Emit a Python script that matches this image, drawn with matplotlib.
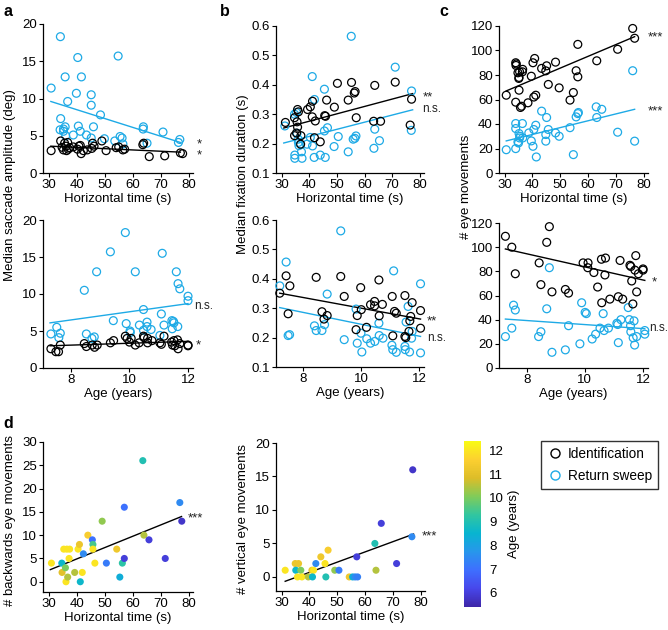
import matplotlib.pyplot as plt
import numpy as np
from matplotlib.colors import LinearSegmentedColormap

plt.rcParams['font.family'] = ['Liberation Sans', 'DejaVu Sans']
plt.rcParams['font.size'] = 9

BLUE = '#1EAAE6'
W, H = 668, 630

# ---- panel a (saccade amplitude) ----
a_top_id_x = [30.9, 34.3, 34.8, 35.3, 35.7, 36.2, 36.4, 36.8, 37.0, 37.5, 38.8, 40.3, 40.8, 41.3,
              41.6, 42.4, 43.8, 45.4, 45.7, 46.2, 49.0, 50.5, 54.1, 55.0, 56.5, 57.1, 63.6, 63.9,
              65.9, 71.4, 77.0, 77.8]
a_top_id_y = [3.0, 4.3, 3.45, 3.1, 4.0, 3.6, 3.0, 4.1, 3.2, 3.4, 3.5, 3.2, 3.6, 3.7,
              2.6, 3.0, 3.1, 3.3, 4.0, 3.6, 4.3, 3.0, 3.4, 3.5, 3.1, 3.2, 3.8, 4.0,
              2.2, 2.3, 2.7, 2.6]
a_top_rs_x = [30.9, 34.2, 35.9, 40.4, 41.7, 39.9, 36.8, 45.2, 45.2, 54.8, 48.5, 34.3, 34.1, 35.3,
              35.9, 35.3, 36.1, 40.6, 41.3, 46.0, 38.8, 43.5, 45.2, 49.9, 53.6, 55.5, 56.2, 56.5,
              63.8, 63.7, 65.1, 70.8, 76.8, 76.3]
a_top_rs_y = [11.4, 18.3, 12.9, 15.5, 12.9, 10.7, 9.6, 10.5, 9.1, 15.7, 7.8, 7.3, 5.8, 5.9,
              6.2, 5.6, 5.0, 6.3, 5.6, 6.2, 5.1, 5.1, 4.7, 4.6, 4.3, 4.9, 4.7, 3.9,
              6.2, 5.9, 4.0, 5.5, 4.5, 4.1]
a_top_fit_x = [30.8, 77.0]
a_top_fit_id = [3.6, 2.8]
a_top_fit_rs = [9.6, 4.1]

a_bot_id_x = [7.32, 7.49, 7.58, 7.64, 8.46, 8.53, 8.73, 8.81, 8.90, 9.35, 9.46, 9.86, 9.92, 10.0,
              10.06, 10.2, 10.33, 10.48, 10.5, 10.62, 10.62, 10.77, 11.04, 11.09, 11.18, 11.44,
              11.47, 11.52, 11.55, 11.64, 11.66, 11.72, 12.0, 12.0]
a_bot_id_y = [2.6, 2.2, 2.2, 3.1, 3.3, 2.9, 3.1, 2.8, 3.1, 3.4, 3.7, 4.3, 4.0, 3.5,
              4.0, 3.1, 3.4, 4.3, 4.1, 4.0, 3.4, 3.7, 3.4, 3.2, 4.3, 3.5,
              3.1, 3.7, 3.0, 3.8, 2.6, 3.3, 3.1, 3.0]
a_bot_rs_x = [7.32, 7.52, 7.64, 7.59, 8.46, 8.53, 8.72, 8.80, 8.88, 9.35, 9.45, 9.86, 9.89, 10.02,
              10.03, 10.2, 10.34, 10.48, 10.48, 10.6, 10.6, 10.74, 11.04, 11.09, 11.12, 11.18,
              11.45, 11.5, 11.52, 11.46, 11.6, 11.66, 11.72, 11.65, 12.0, 12.0]
a_bot_rs_y = [4.6, 5.5, 4.7, 4.1, 10.5, 4.6, 4.0, 4.2, 13.0, 15.7, 6.4, 18.3, 6.0, 5.0,
              4.8, 13.0, 5.8, 5.1, 7.9, 6.2, 5.6, 5.2, 4.4, 7.3, 15.5, 5.8,
              6.4, 6.3, 6.1, 5.3, 13.0, 11.4, 10.7, 5.6, 9.7, 9.1]
a_bot_fit_x = [7.29, 12.0]
a_bot_fit_id = [3.0, 3.6]
a_bot_fit_rs = [6.1, 8.7]

# ---- panel b (fixation duration) ----
b_top_id_x = [31.4, 34.7, 34.7, 35.8, 36.1, 35.6, 35.8, 35.4, 37.0, 36.9, 39.4, 40.4, 41.2, 41.1,
              42.2, 41.9, 44.0, 45.6, 45.9, 46.3, 49.1, 50.2, 54.1, 55.3, 56.3, 56.6, 57.0, 63.7,
              63.3, 65.8, 71.1, 77.0, 76.5]
b_top_id_y = [0.272, 0.288, 0.227, 0.316, 0.308, 0.274, 0.256, 0.236, 0.227, 0.198, 0.316, 0.325,
              0.344, 0.291, 0.277, 0.220, 0.206, 0.295, 0.293, 0.348, 0.324, 0.405, 0.348, 0.408,
              0.372, 0.377, 0.288, 0.398, 0.276, 0.276, 0.409, 0.351, 0.263]
b_top_rs_x = [31.2, 34.7, 35.4, 34.8, 34.8, 35.6, 36.0, 36.1, 36.3, 37.2, 37.4, 39.2, 40.4, 41.2,
              41.1, 41.9, 41.8, 44.0, 45.5, 45.8, 45.5, 46.6, 49.0, 50.5, 54.1, 55.2, 55.9, 56.5,
              56.9, 63.4, 63.7, 65.4, 71.1, 77.0, 76.9]
b_top_rs_y = [0.260, 0.300, 0.306, 0.161, 0.150, 0.235, 0.215, 0.204, 0.193, 0.172, 0.150, 0.198,
              0.221, 0.192, 0.428, 0.350, 0.153, 0.161, 0.385, 0.153, 0.243, 0.254, 0.190, 0.224,
              0.172, 0.565, 0.215, 0.218, 0.226, 0.184, 0.249, 0.210, 0.460, 0.379, 0.245]
b_top_fit_x = [30.8, 77.4]
b_top_fit_id = [0.253, 0.370]
b_top_fit_rs = [0.202, 0.315]

b_bot_id_x = [7.18, 7.40, 7.47, 7.53, 8.44, 8.64, 8.71, 8.82, 9.29, 9.41, 9.82, 9.86, 9.98, 10.0,
              10.18, 10.32, 10.46, 10.46, 10.61, 10.62, 10.73, 11.07, 11.09, 11.15, 11.21, 11.51,
              11.51, 11.54, 11.65, 11.71, 11.76, 11.68, 12.05, 12.05]
b_bot_id_y = [0.351, 0.410, 0.281, 0.376, 0.405, 0.288, 0.263, 0.275, 0.408, 0.340, 0.227, 0.275,
              0.370, 0.295, 0.235, 0.312, 0.323, 0.308, 0.396, 0.274, 0.313, 0.340, 0.206, 0.289,
              0.283, 0.343, 0.204, 0.200, 0.221, 0.272, 0.319, 0.257, 0.292, 0.232]
b_bot_rs_x = [7.18, 7.40, 7.47, 7.52, 8.38, 8.44, 8.64, 8.73, 8.82, 9.29, 9.41, 9.82, 9.86, 9.99,
              10.02, 10.19, 10.32, 10.47, 10.61, 10.62, 10.75, 11.06, 11.09, 11.12, 11.21, 11.51,
              11.52, 11.55, 11.62, 11.67, 11.74, 11.76, 12.05, 12.05]
b_bot_rs_y = [0.376, 0.457, 0.207, 0.210, 0.240, 0.224, 0.224, 0.244, 0.348, 0.563, 0.193, 0.297,
              0.181, 0.215, 0.151, 0.196, 0.181, 0.187, 0.249, 0.207, 0.198, 0.174, 0.159, 0.427,
              0.150, 0.170, 0.159, 0.253, 0.306, 0.151, 0.198, 0.221, 0.383, 0.148]
b_bot_fit_x = [7.18, 12.05]
b_bot_fit_id = [0.351, 0.263]
b_bot_fit_rs = [0.302, 0.204]

# ---- panel c (number of eye movements) ----
c_top_id_x = [30.6, 34.0, 34.0, 34.2, 34.1, 34.8, 35.4, 35.2, 35.1, 35.2, 35.7, 36.1, 36.5, 36.4,
              38.4, 39.6, 40.2, 40.8, 40.5, 41.2, 43.3, 45.1, 44.8, 45.7, 48.3, 49.6, 53.5, 54.7,
              55.7, 56.3, 56.3, 63.1, 70.6, 76.0, 76.7]
c_top_id_y = [63.5, 57.8, 90.0, 89.0, 87.8, 81.8, 82.6, 78.0, 77.2, 67.6, 53.5, 54.5, 84.6, 82.6,
              57.3, 79.0, 90.0, 93.5, 62.0, 63.5, 85.4, 87.5, 83.4, 72.3, 90.5, 69.5, 59.5, 65.7,
              83.5, 78.5, 105.0, 91.6, 101.0, 118.0, 110.0]
c_top_rs_x = [30.6, 34.0, 34.0, 34.0, 34.8, 35.0, 35.2, 35.5, 35.4, 36.4, 36.5, 38.7, 39.6, 40.2,
              40.5, 41.2, 41.4, 43.3, 45.1, 44.8, 44.8, 45.7, 48.3, 49.6, 53.5, 54.7, 55.7, 56.3,
              56.5, 62.9, 63.1, 64.9, 70.6, 76.0, 76.7]
c_top_rs_y = [19.0, 40.4, 36.3, 19.9, 25.4, 24.5, 32.2, 30.0, 28.6, 40.4, 28.6, 32.7, 26.2, 21.8,
              35.5, 39.0, 13.1, 50.5, 45.3, 31.4, 26.0, 35.5, 32.7, 30.0, 37.0, 15.0, 45.8, 48.5,
              49.4, 54.0, 45.3, 52.0, 33.3, 83.5, 26.0]
c_top_fit_x = [30.6, 76.7]
c_top_fit_id = [67.0, 111.3]
c_top_fit_rs = [26.2, 52.0]

c_bot_id_x = [7.27, 7.49, 7.61, 8.43, 8.49, 8.69, 8.78, 8.87, 9.33, 9.44, 9.94, 10.11, 10.10, 10.31,
              10.44, 10.58, 10.57, 10.71, 10.69, 10.86, 11.15, 11.21, 11.30, 11.55, 11.58, 11.61,
              11.65, 11.72, 11.75, 11.78, 11.84, 12.0, 12.0]
c_bot_id_y = [109.0, 100.0, 78.0, 87.0, 69.0, 104.0, 117.0, 63.0, 65.0, 62.0, 87.0, 87.0, 83.0, 79.0,
              67.0, 54.0, 90.0, 91.0, 77.0, 57.0, 59.0, 89.0, 57.0, 85.0, 84.0, 72.0,
              53.0, 81.0, 93.0, 63.0, 78.0, 82.0, 81.0]
c_bot_rs_x = [7.27, 7.49, 7.55, 7.61, 8.41, 8.49, 8.69, 8.78, 8.87, 9.33, 9.44, 9.83, 9.89, 10.01,
              10.05, 10.25, 10.37, 10.52, 10.63, 10.66, 10.81, 11.10, 11.13, 11.15, 11.24, 11.49,
              11.53, 11.57, 11.58, 11.66, 11.69, 11.71, 11.78, 12.06, 12.06]
c_bot_rs_y = [26.0, 33.0, 52.0, 48.0, 26.0, 30.0, 49.0, 83.0, 13.0, 15.0, 35.0, 20.0, 54.0, 46.0,
              45.0, 24.0, 28.0, 33.0, 45.0, 31.0, 33.0, 37.0, 36.0, 21.0, 40.0, 50.0,
              40.0, 35.0, 30.0, 25.0, 39.0, 19.0, 26.0, 31.0, 28.0]
c_bot_fit_x = [7.27, 12.06]
c_bot_fit_id = [98.5, 72.5]
c_bot_fit_rs = [40.5, 32.5]

# ---- panel d (coloured by age) ----
d_back_x = [31.0, 34.7, 34.8, 35.4, 36.0, 36.2, 36.5, 36.8, 37.3, 37.5, 39.3, 40.5, 41.0, 41.3,
            42.0, 42.4, 44.0, 45.6, 45.8, 45.8, 46.5, 49.1, 50.6, 54.3, 55.4, 56.3, 57.0, 57.0,
            63.6, 64.0, 65.8, 71.6, 76.8, 77.5]
d_back_y = [4, 4, 2, 7, 3, 0, 7, 1, 5, 7, 2, 7, 8, 0,
            2, 6, 10, 9, 8, 7, 4, 13, 4, 7, 1, 4, 16, 5,
            26, 10, 9, 5, 17, 13]
d_back_age = [12.0, 8.6, 11.0, 12.0, 10.0, 12.0, 12.0, 10.5, 12.0, 12.0, 10.5, 12.0, 11.2, 8.6,
              12.0, 7.5, 11.5, 7.0, 9.5, 12.0, 12.0, 10.2, 7.2, 11.3, 8.3, 9.2, 7.0, 6.0,
              9.0, 10.5, 6.0, 6.0, 7.5, 5.8]
d_back_fit_x = [30.6, 77.4]
d_back_fit_y = [2.6, 14.0]

d_vert_x = [31.3, 34.9, 36.1, 35.1, 35.7, 36.9, 37.3, 39.6, 40.9, 41.5, 41.1, 42.3, 44.1, 45.6,
            45.9, 46.7, 49.1, 50.6, 54.3, 55.5, 56.4, 57.3, 57.0, 63.5, 63.9, 65.8, 71.3, 76.8,
            77.1]
d_vert_y = [1, 2, 2, 1, 0, 1, 0, 0, 1, 1, 0, 2, 3, 2,
            0, 4, 1, 1, 0, 0, 0, 0, 3, 5, 1, 8, 2, 6,
            16]
d_vert_age = [12.0, 11.2, 11.2, 8.6, 12.0, 10.0, 12.0, 10.5, 11.2, 12.0, 8.6, 7.5, 11.3, 12.0,
              9.0, 11.5, 10.2, 7.2, 11.3, 8.3, 7.5, 7.3, 6.0, 9.0, 10.5, 6.0, 6.0, 7.5,
              5.8]
d_vert_fit_x = [31.3, 77.4]
d_vert_fit_y = [-0.65, 6.4]

parula = LinearSegmentedColormap.from_list('parula', [
    (0.2422, 0.1504, 0.6603), (0.2803, 0.2782, 0.9221), (0.2440, 0.4358, 0.9988),
    (0.1540, 0.5902, 0.9218), (0.0297, 0.7082, 0.8163), (0.1938, 0.7758, 0.6251),
    (0.5044, 0.7993, 0.3480), (0.8634, 0.7406, 0.1596), (0.9892, 0.8136, 0.1885),
    (0.9769, 0.9839, 0.0805)])
age_lim = (5.4, 12.4)

fig = plt.figure(figsize=(W / 100, H / 100), dpi=100)


def make_ax(x0, x1, y0, y1):
    return fig.add_axes([x0 / W, 1 - y1 / H, (x1 - x0) / W, (y1 - y0) / H])


def style(ax, xlim, ylim, xticks, yticks, xlabel):
    ax.spines[['top', 'right']].set_visible(False)
    for s in ('left', 'bottom'):
        ax.spines[s].set_linewidth(0.9)
    ax.set_xlim(xlim)
    ax.set_ylim(ylim)
    ax.set_xticks(xticks)
    ax.set_yticks(yticks)
    ax.tick_params(direction='out', length=3, width=0.8, labelsize=9.5, pad=1.5)
    ax.set_xlabel(xlabel, fontsize=9.5, labelpad=1)


def open_pts(ax, x, y, c):
    ax.scatter(x, y, s=32, facecolors='none', edgecolors=c, linewidths=0.9, zorder=3,
               clip_on=False)


def stars(ax, x, y, s):
    ax.text(x, y, s, ha='left', va='center', fontsize=8.5 if s == 'n.s.' else 9.5,
            color='#222222', clip_on=False)


ht_lim = (28, 81.5)
ht_ticks = [30, 40, 50, 60, 70, 80]
age_xlim = (7.05, 12.17)
age_ticks = [8, 10, 12]

# a
ax = make_ax(43, 193, 24, 173)
open_pts(ax, a_top_rs_x, a_top_rs_y, BLUE)
open_pts(ax, a_top_id_x, a_top_id_y, 'k')
ax.plot(a_top_fit_x, a_top_fit_rs, color=BLUE, lw=1)
ax.plot(a_top_fit_x, a_top_fit_id, color='k', lw=1)
style(ax, ht_lim, (0, 20), ht_ticks, [0, 5, 10, 15, 20], 'Horizontal time (s)')
stars(ax, 82.8, 3.8, '*')
stars(ax, 82.8, 2.4, '*')

ax = make_ax(43, 193, 220, 368)
open_pts(ax, a_bot_rs_x, a_bot_rs_y, BLUE)
open_pts(ax, a_bot_id_x, a_bot_id_y, 'k')
ax.plot(a_bot_fit_x, a_bot_fit_rs, color=BLUE, lw=1)
ax.plot(a_bot_fit_x, a_bot_fit_id, color='k', lw=1)
style(ax, age_xlim, (0, 20), age_ticks, [0, 5, 10, 15, 20], 'Age (years)')
stars(ax, 12.2, 8.4, 'n.s.')
stars(ax, 12.28, 3.1, '*')

# b
ax = make_ax(276, 424, 26, 173)
open_pts(ax, b_top_rs_x, b_top_rs_y, BLUE)
open_pts(ax, b_top_id_x, b_top_id_y, 'k')
ax.plot(b_top_fit_x, b_top_fit_rs, color=BLUE, lw=1)
ax.plot(b_top_fit_x, b_top_fit_id, color='k', lw=1)
style(ax, ht_lim, (0.1, 0.6), ht_ticks, [0.1, 0.2, 0.3, 0.4, 0.5, 0.6], 'Horizontal time (s)')
stars(ax, 81.0, 0.357, '**')
stars(ax, 81.0, 0.316, 'n.s.')

ax = make_ax(276, 424, 220, 367)
open_pts(ax, b_bot_rs_x, b_bot_rs_y, BLUE)
open_pts(ax, b_bot_id_x, b_bot_id_y, 'k')
ax.plot(b_bot_fit_x, b_bot_fit_rs, color=BLUE, lw=1)
ax.plot(b_bot_fit_x, b_bot_fit_id, color='k', lw=1)
style(ax, age_xlim, (0.1, 0.6), age_ticks, [0.1, 0.2, 0.3, 0.4, 0.5, 0.6], 'Age (years)')
stars(ax, 12.28, 0.255, '**')
stars(ax, 12.28, 0.2, 'n.s.')

# c
ax = make_ax(499, 648, 26, 173)
open_pts(ax, c_top_rs_x, c_top_rs_y, BLUE)
open_pts(ax, c_top_id_x, c_top_id_y, 'k')
ax.plot(c_top_fit_x, c_top_fit_rs, color=BLUE, lw=1)
ax.plot(c_top_fit_x, c_top_fit_id, color='k', lw=1)
style(ax, ht_lim, (0, 120), ht_ticks, [0, 20, 40, 60, 80, 100, 120], 'Horizontal time (s)')
stars(ax, 81.3, 111, '***')
stars(ax, 81.3, 50, '***')

ax = make_ax(499, 648, 223, 368)
open_pts(ax, c_bot_rs_x, c_bot_rs_y, BLUE)
open_pts(ax, c_bot_id_x, c_bot_id_y, 'k')
ax.plot(c_bot_fit_x, c_bot_fit_rs, color=BLUE, lw=1)
ax.plot(c_bot_fit_x, c_bot_fit_id, color='k', lw=1)
style(ax, age_xlim, (0, 120), age_ticks, [0, 20, 40, 60, 80, 100, 120], 'Age (years)')
stars(ax, 12.3, 71, '*')
stars(ax, 12.22, 33, 'n.s.')

# d
ax = make_ax(43, 193, 442, 592)
sc = ax.scatter(d_back_x, d_back_y, c=d_back_age, cmap=parula, vmin=age_lim[0], vmax=age_lim[1],
                s=26, edgecolors='none', zorder=3)
ax.plot(d_back_fit_x, d_back_fit_y, color='k', lw=1)
style(ax, ht_lim, (-2.2, 30), ht_ticks, [0, 5, 10, 15, 20, 25, 30], 'Horizontal time (s)')
stars(ax, 79.8, 13.6, '***')

ax = make_ax(276, 425, 443, 591)
ax.scatter(d_vert_x, d_vert_y, c=d_vert_age, cmap=parula, vmin=age_lim[0], vmax=age_lim[1],
           s=26, edgecolors='none', zorder=3)
ax.plot(d_vert_fit_x, d_vert_fit_y, color='k', lw=1)
style(ax, ht_lim, (-2.1, 20), ht_ticks, [0, 5, 10, 15, 20], 'Horizontal time (s)')
stars(ax, 80.2, 6.0, '***')

# colorbar
cax = make_ax(464, 481, 441, 607)
cb = fig.colorbar(sc, cax=cax, ticks=[6, 7, 8, 9, 10, 11, 12])
cb.outline.set_visible(False)
cax.tick_params(length=0, labelsize=9.5, pad=6)
cb.set_label('Age (years)', fontsize=9.5, labelpad=3)

# legend
h1 = plt.Line2D([], [], ls='none', marker='o', mfc='none', mec='k', ms=6.5, mew=1)
h2 = plt.Line2D([], [], ls='none', marker='o', mfc='none', mec=BLUE, ms=6.5, mew=1)
leg = fig.legend([h1, h2], ['Identification', 'Return sweep'], loc='upper left',
                 bbox_to_anchor=(541 / W, 1 - 441 / H), fancybox=False, fontsize=9.8,
                 handletextpad=0.3, borderpad=0.45, handlelength=1.2, borderaxespad=0,
                 labelspacing=0.55)
leg.get_frame().set_edgecolor('k')
leg.get_frame().set_linewidth(1)

# shared y labels and panel letters
fig.text(10 / W, 1 - 185 / H, 'Median saccade amplitude (deg)', rotation=90,
         ha='center', va='center', fontsize=9.5)
fig.text(243 / W, 1 - 174 / H, 'Median fixation duration (s)', rotation=90,
         ha='center', va='center', fontsize=9.5)
fig.text(466 / W, 1 - 187 / H, '# eye movements', rotation=90,
         ha='center', va='center', fontsize=9.5)
fig.text(10 / W, 1 - 521 / H, '# backwards eye movements', rotation=90,
         ha='center', va='center', fontsize=9.5)
fig.text(243 / W, 1 - 519 / H, '# vertical eye movements', rotation=90,
         ha='center', va='center', fontsize=9.5)
for lab, x, y in [('a', 8, 11), ('b', 225, 11), ('c', 444, 11), ('d', 8, 424)]:
    fig.text(x / W, 1 - y / H, lab, fontsize=11.5, fontweight='bold', ha='center', va='center')

fig.savefig('out.png', dpi=100)
